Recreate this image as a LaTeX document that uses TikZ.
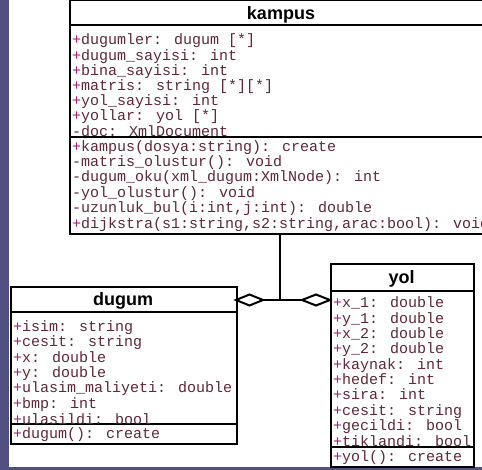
\documentclass[tikz,border=0pt]{standalone}
\usepackage{fontspec}
\setmainfont{Liberation Sans}
\newfontfamily\umlmono{Liberation Mono}
\definecolor{slidebg}{RGB}{82,80,128}
\definecolor{txt}{RGB}{95,40,55}
\definecolor{plusc}{RGB}{170,30,120}
\newcommand{\pl}{\textcolor{plusc}{+}}
\tikzset{
  umlbox/.style={draw=black, line width=2pt, fill=white, inner sep=0pt, anchor=north west},
  sepline/.style={line width=2pt},
  umltitle/.style={font=\fontsize{18}{18}\selectfont\bfseries, inner sep=0pt, anchor=base},
  member/.style={font=\umlmono\fontsize{15}{15}\selectfont, text=txt, anchor=base west, inner sep=0pt},
  conn/.style={line width=2pt},
  aggdiamond/.style={draw=black, fill=white, line width=2pt, line join=miter}
}
\begin{document}
\begin{tikzpicture}[x=1pt,y=-1pt]
\useasboundingbox (0,0) rectangle (482,470);
\fill[slidebg] (0,0) rectangle (482,470);
\fill[white] (9,0) rectangle (482,467);

% ---------- kampus ----------
\node[umlbox, minimum width=424pt, minimum height=233.5pt] (kampus) at (69,-0.5) {};
\draw[sepline] (69,25) -- (493,25);
\draw[sepline] (69,137) -- (493,137);
\node[umltitle] (kampusT) at (281,19.5) {kampus};
\begin{scope}
\clip (70,26) rectangle (492,136);
\node[member] (ka1) at (72,45.0) {\pl dugumler: dugum [*]};
\node[member] (ka2) at (72,60.15) {\pl dugum\_sayisi: int};
\node[member] (ka3) at (72,75.3) {\pl bina\_sayisi: int};
\node[member] (ka4) at (72,90.45) {\pl matris: string [*][*]};
\node[member] (ka5) at (72,105.6) {\pl yol\_sayisi: int};
\node[member] (ka6) at (72,120.75) {\pl yollar: yol [*]};
\node[member] (ka7) at (72,136.9) {-doc: XmlDocument};
\end{scope}
\begin{scope}
\clip (70,138) rectangle (492,232);
\node[member] (km1) at (72,151.3) {\pl kampus(dosya:string): create};
\node[member] (km2) at (72,166.65) {-matris\_olustur(): void};
\node[member] (km3) at (72,182.0) {-dugum\_oku(xml\_dugum:XmlNode): int};
\node[member] (km4) at (72,197.35) {-yol\_olustur(): void};
\node[member] (km5) at (72,212.7) {-uzunluk\_bul(i:int,j:int): double};
\node[member] (km6) at (72,228.05) {\pl dijkstra(s1:string,s2:string,arac:bool): void};
\end{scope}

% ---------- dugum ----------
\node[umlbox, minimum width=226pt, minimum height=157pt] (dugum) at (10,286) {};
\draw[sepline] (10,312) -- (236,312);
\draw[sepline] (10,424) -- (236,424);
\node[umltitle] (dugumT) at (123,306) {dugum};
\begin{scope}
\clip (11,313) rectangle (235,423);
\node[member] (da1) at (13,331.7) {\pl isim: string};
\node[member] (da2) at (13,346.96) {\pl cesit: string};
\node[member] (da3) at (13,362.22) {\pl x: double};
\node[member] (da4) at (13,377.48) {\pl y: double};
\node[member] (da5) at (13,392.74) {\pl ulasim\_maliyeti: double};
\node[member] (da6) at (13,408.0) {\pl bmp: int};
\node[member] (da7) at (13,424.5) {\pl ulasildi: bool};
\end{scope}
\node[member] (dm1) at (13,438.3) {\pl dugum(): create};

% ---------- yol ----------
\node[umlbox, minimum width=143pt, minimum height=203pt] (yol) at (330,263) {};
\draw[sepline] (330,291) -- (473,291);
\draw[sepline] (330,447) -- (473,447);
\node[umltitle] (yolT) at (401.5,283.5) {yol};
\begin{scope}
\clip (331,292) rectangle (472,446);
\node[member] (ya1) at (333,308.0) {\pl x\_1: double};
\node[member] (ya2) at (333,323.33) {\pl y\_1: double};
\node[member] (ya3) at (333,338.66) {\pl x\_2: double};
\node[member] (ya4) at (333,353.99) {\pl y\_2: double};
\node[member] (ya5) at (333,369.32) {\pl kaynak: int};
\node[member] (ya6) at (333,384.65) {\pl hedef: int};
\node[member] (ya7) at (333,399.98) {\pl sira: int};
\node[member] (ya8) at (333,415.31) {\pl cesit: string};
\node[member] (ya9) at (333,430.64) {\pl gecildi: bool};
\node[member] (ya10) at (333,446.5) {\pl tiklandi: bool};
\end{scope}
\node[member] (ym1) at (333,461.3) {\pl yol(): create};

% ---------- connectors ----------
\coordinate (junc) at (280,300);
\coordinate (kbot) at (280,233);
\coordinate (dend) at (236,300);
\coordinate (dtail) at (263,300);
\coordinate (yend) at (330,300);
\coordinate (ytail) at (302,300);
\draw[conn] (kbot) -- (junc);
\draw[conn] (dtail) -- (ytail);
\draw[aggdiamond] (dend) -- ++(13.5,-5.5) -- (dtail) -- ++(-13.5,5.5) -- cycle;
\draw[aggdiamond] (yend) -- ++(-14,-5.5) -- (ytail) -- ++(14,5.5) -- cycle;
\end{tikzpicture}
\end{document}
